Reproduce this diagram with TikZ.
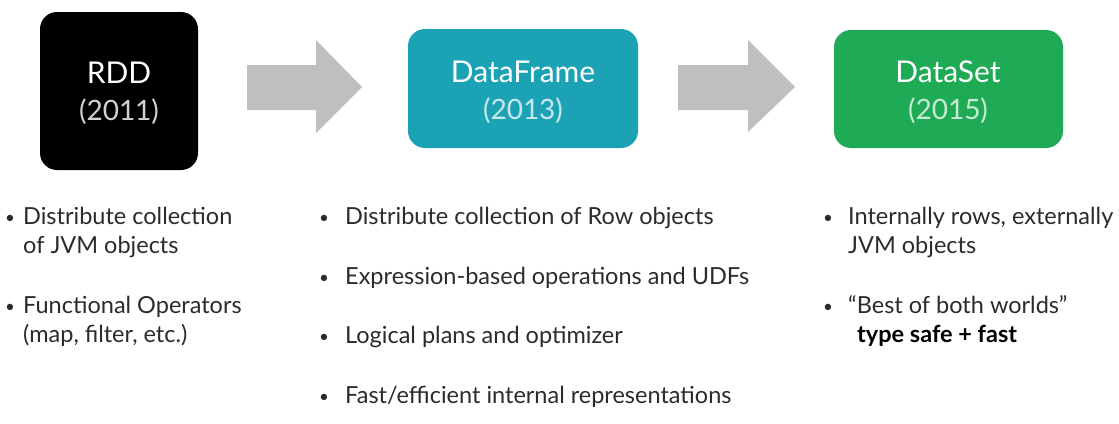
\documentclass[tikz,border=0pt]{standalone}
\usepackage{fontspec}
\setmainfont{Lato}
\begin{document}
\begin{tikzpicture}[x=1pt,y=-1pt,
  box/.style={rounded corners=17pt},
  title/.style={anchor=base,text=white,font=\fontsize{30}{34}\selectfont,inner sep=0pt},
  year/.style={anchor=base,font=\fontsize{28}{32}\selectfont,inner sep=0pt},
  item/.style={anchor=base west,text=textgray,font=\fontsize{23.5}{29}\selectfont,inner sep=0pt},
  dot/.style={anchor=base,text=textgray,font=\fontsize{17}{20}\selectfont,inner sep=0pt},
  blockarrow/.style={fill=arrowgray,draw=none}]
\definecolor{textgray}{HTML}{2B2B2B}
\definecolor{arrowgray}{HTML}{BFBFBF}
\definecolor{teal}{HTML}{1CA2B5}
\definecolor{green}{HTML}{1FAA55}
\useasboundingbox (0,0) rectangle (1119,423);

% the three stages
\fill[black,box] (40,12) rectangle (198,170);
\node[title] (rddT) at (119,83) {RDD};
\node[year,text=black!18] (rddY) at (119,120) {(2011)};

\fill[teal,box] (408,29) rectangle (638,148);
\node[title] (dfT) at (523,82) {DataFrame};
\node[year,text=teal!25!white] (dfY) at (523,119) {(2013)};

\fill[green,box] (834,30) rectangle (1063,148);
\node[title] (dsT) at (948,82) {DataSet};
\node[year,text=green!25!white] (dsY) at (948,119) {(2015)};

% block arrows between the stages
\fill[blockarrow] (247,65) -- (316,65) -- (316,40) -- (362,87) -- (316,133) -- (316,110) -- (247,110) -- cycle;
\fill[blockarrow] (678,65) -- (748,65) -- (748,40) -- (795,87) -- (748,132) -- (748,110) -- (678,110) -- cycle;

% RDD features
\node[dot] (b11) at (10,223) {•};
\node[item] (a11) at (23,224) {Distribute collection};
\node[item] (a12) at (23,253) {of JVM objects};
\node[dot] (b12) at (10,312) {•};
\node[item] (a13) at (23,313) {Functional Operators};
\node[item] (a14) at (23,342) {(map, filter, etc.)};

% DataFrame features
\node[dot] (b21) at (324,223) {•};
\node[item] (a21) at (345,224) {Distribute collection of Row objects};
\node[dot] (b22) at (324,283) {•};
\node[item] (a22) at (345,284) {Expression-based operations and UDFs};
\node[dot] (b23) at (324,342) {•};
\node[item] (a23) at (345,343) {Logical plans and optimizer};
\node[dot] (b24) at (324,402) {•};
\node[item] (a24) at (345,403) {Fast/efficient internal representations};

% DataSet features
\node[dot] (b31) at (828,223) {•};
\node[item] (a31) at (848,224) {Internally rows, externally};
\node[item] (a32) at (848,253) {JVM objects};
\node[dot] (b32) at (828,312) {•};
\node[item] (a33) at (848,313) {“Best of both worlds”};
\node[item,font=\fontsize{23.5}{29}\selectfont\bfseries,text=black] (a34) at (857,342) {type safe + fast};
\end{tikzpicture}
\end{document}
